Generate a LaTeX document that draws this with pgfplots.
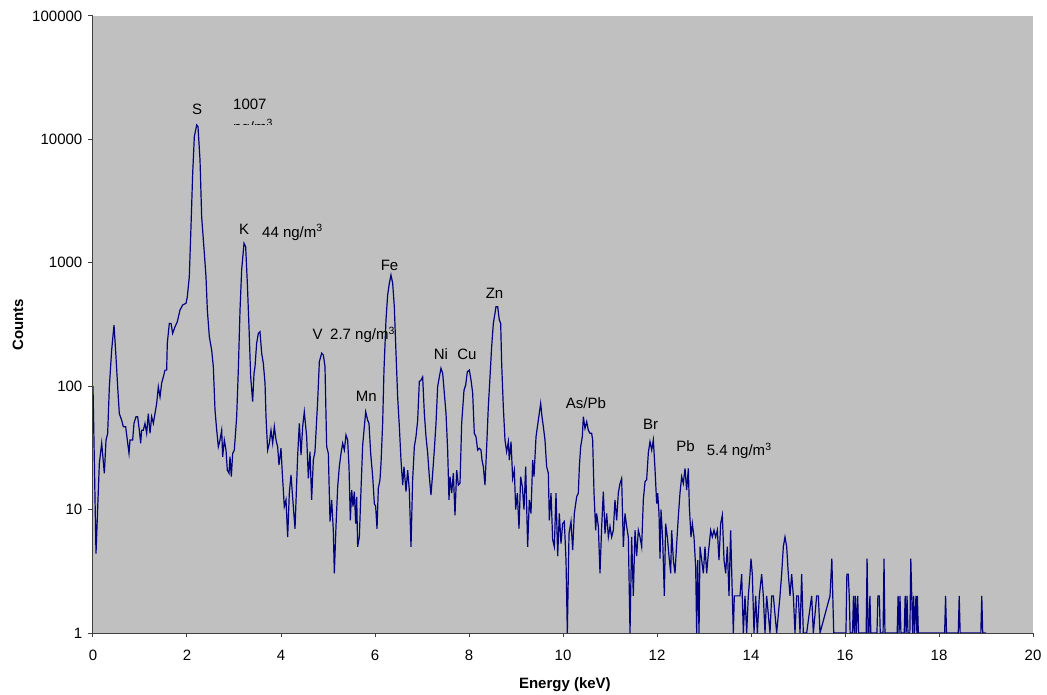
\documentclass[border=0pt]{standalone}
\usepackage{fontspec}
\setmainfont{Liberation Sans}
\usepackage{pgfplots}
\pgfplotsset{compat=1.18}
\definecolor{plotgray}{HTML}{C0C0C0}
\definecolor{spec}{HTML}{000080}
\definecolor{axgray}{HTML}{404040}

\begin{document}
\fontsize{15}{18}\selectfont
\begin{tikzpicture}[font=\fontsize{15}{18}\selectfont]
\useasboundingbox (-93pt,-61pt) rectangle (954pt,633pt);
\begin{axis}[
  name=ax, at={(0,0)}, anchor=south west,
  scale only axis, width=940pt, height=617pt,
  ymode=log, xmin=0, xmax=20, ymin=1, ymax=100000,
  xtick={0,2,...,20}, ytick={1,10,100,1000,10000,100000},
  yticklabels={1,10,100,1000,10000,100000},
  yminorticks=false,
  axis x line*=bottom, axis y line*=left,
  axis line style={-, draw=axgray, line width=1pt},
  tick style={draw=axgray, line width=1pt},
  tick align=outside, major tick length=4.5pt,
  axis background/.style={fill=plotgray},
  /pgf/number format/assume math mode=true,
  xticklabel style={yshift=-7pt},
  yticklabel style={xshift=-1pt},
  xlabel={\bfseries Energy (keV)}, ylabel={\bfseries Counts},
  xlabel style={at={(axis description cs:0.502,-0.0845)}, anchor=center},
  ylabel style={at={(axis description cs:-0.0798,0.5)}, anchor=center},
  axis on top,
]
% spectrum
\addplot[spec, line width=1.2pt] coordinates {
(0,100) (0.064,4.4) (0.135,23.7) (0.185,34.5) (0.241,19.7) (0.277,36.6) (0.312,41.5)
(0.348,99) (0.397,196) (0.447,313) (0.489,173) (0.525,99) (0.56,60) (0.61,53) (0.645,47)
(0.695,47) (0.73,36.6) (0.766,28.6) (0.787,36.6) (0.844,36.6) (0.872,50) (0.915,56.6)
(0.95,56.6) (0.986,44) (1.014,34.5) (1.035,44) (1.071,44) (1.106,50) (1.142,41.5)
(1.177,60) (1.213,41.5) (1.248,56.6) (1.284,50) (1.319,60) (1.355,72.6) (1.39,99)
(1.426,82) (1.461,106) (1.497,119) (1.532,135) (1.567,135) (1.581,223) (1.624,323)
(1.66,323) (1.695,268) (1.745,303) (1.794,333) (1.851,414) (1.908,455) (1.979,470)
(2.007,531) (2.049,771) (2.085,1963) (2.121,5310) (2.156,10500) (2.206,13100)
(2.234,12700) (2.277,6810) (2.312,2360) (2.369,1195) (2.404,771) (2.433,414) (2.475,252)
(2.525,196) (2.56,144) (2.596,64) (2.632,44) (2.667,32.3) (2.702,36.6) (2.738,44)
(2.759,26.8) (2.794,36.6) (2.83,30.4) (2.858,20.9) (2.894,19.7) (2.915,26.8) (2.943,18.5)
(2.972,28.6) (3.007,30.4) (3.057,56.6) (3.092,135) (3.128,414) (3.163,875) (3.213,1440)
(3.248,1350) (3.284,682) (3.319,303) (3.355,119) (3.397,75) (3.426,127) (3.447,144)
(3.482,223) (3.518,268) (3.553,276) (3.589,185) (3.624,153) (3.66,106) (3.681,56.6)
(3.716,30.4) (3.752,34.5) (3.787,44) (3.823,34.5) (3.858,47) (3.894,36.6)
(3.929,32.3) (3.957,23) (4.0,31.4) (4.028,19.7) (4.07,10.6) (4.106,12) (4.142,6.0)
(4.177,13.6) (4.213,19.1) (4.262,10.6) (4.298,7.0) (4.355,27.7) (4.39,50) (4.426,27.7)
(4.461,47) (4.496,62) (4.546,39) (4.582,17.9) (4.617,29.5) (4.652,12) (4.688,25.2)
(4.723,29.5) (4.781,77) (4.816,158) (4.865,185) (4.901,179) (4.936,144) (4.972,32.3)
(5.007,28.6) (5.043,8.0) (5.078,12) (5.113,6.8) (5.135,3.05) (5.17,7.3) (5.206,15.3)
(5.241,22.3) (5.277,28.6) (5.312,34.5) (5.348,30.4) (5.383,40.2) (5.418,36.6) (5.447,22.3)
(5.475,8.2) (5.504,14.4) (5.532,10.6) (5.56,14) (5.589,7.7) (5.61,12.7) (5.631,5.0)
(5.667,6.0) (5.702,14.4) (5.738,33.4) (5.773,47) (5.802,62) (5.844,53) (5.872,50)
(5.908,28.6) (5.951,18.5) (5.986,11.2) (6.014,10.6) (6.043,7.0) (6.071,14.9) (6.106,17.4)
(6.128,23.7) (6.163,50) (6.191,135) (6.234,344) (6.269,548) (6.305,682) (6.34,796)
(6.376,682) (6.411,441) (6.447,185) (6.482,82) (6.518,47) (6.553,25.2) (6.589,15.8)
(6.617,22.3) (6.66,14) (6.695,20.9) (6.73,14.4) (6.766,5.0) (6.801,17.4) (6.837,32.3)
(6.872,39) (6.908,53) (6.943,109) (6.979,112) (7.014,119) (7.05,60) (7.085,39)
(7.121,28.6) (7.156,18.5) (7.191,13.1) (7.227,19.7) (7.262,30.4) (7.298,50) (7.333,99)
(7.369,119) (7.404,140) (7.44,127) (7.475,88) (7.511,60) (7.546,30.4) (7.574,12)
(7.596,18.5) (7.631,13.6) (7.667,19.7) (7.702,9.0) (7.738,20.9) (7.773,15.8) (7.809,16.4)
(7.844,50) (7.894,93) (7.929,102) (7.965,131) (8.007,135) (8.043,112) (8.078,88)
(8.113,41.5) (8.149,39) (8.184,30.4) (8.22,31.4) (8.255,30.4) (8.277,25.2) (8.305,22.3)
(8.34,15.8) (8.376,32.3) (8.411,68) (8.447,119) (8.482,209) (8.518,323) (8.553,390)
(8.574,441) (8.61,441) (8.645,344) (8.674,323) (8.695,153) (8.73,68) (8.766,36.6)
(8.801,29.5) (8.837,35.5) (8.858,25.2) (8.894,35.5) (8.929,17.9) (8.965,20.9) (8.993,10)
(9.028,13.6) (9.064,7.0) (9.099,18.5) (9.135,15.3) (9.17,10) (9.206,22.3) (9.248,5.0)
(9.284,12) (9.319,9.3) (9.355,25.2) (9.383,18.5) (9.426,39) (9.475,53) (9.525,72.6)
(9.553,56.6) (9.582,47) (9.617,36.6) (9.652,22.3) (9.688,19.7) (9.709,8.2) (9.745,13.6)
(9.78,5.7) (9.816,5.0) (9.851,13.6) (9.887,4.2) (9.922,9.3) (9.957,5.3) (9.993,7.7)
(10.028,8.0) (10.064,3.9) (10.092,1) (10.128,6.4) (10.17,8.0) (10.206,4.7) (10.241,9.3)
(10.291,12.7) (10.326,13.6) (10.348,22.3) (10.376,32.3) (10.411,39) (10.433,56.6)
(10.468,45.5) (10.504,51.5) (10.539,44) (10.574,41.5) (10.61,41.5) (10.631,36.6)
(10.66,13.6) (10.695,6.8) (10.716,9.3) (10.752,7.3) (10.787,3.05) (10.823,7.3) (10.858,14)
(10.894,6.4) (10.929,9.3) (10.965,6.0) (11.0,7.3) (11.035,6.0) (11.071,6.8) (11.106,12)
(11.142,8.2) (11.177,13.6) (11.213,16.3) (11.248,17.9) (11.284,5.0) (11.319,9.3)
(11.355,7.3) (11.39,6.0) (11.426,1) (11.461,6.0) (11.496,2.0) (11.532,6.8) (11.567,4.2)
(11.603,6.8) (11.638,6.0) (11.674,5.0) (11.709,12) (11.745,16.8) (11.78,17.5) (11.816,29)
(11.851,35.5) (11.887,30.4) (11.922,36.6) (11.957,21.6) (11.993,11.2) (12.014,13.6)
(12.043,9.3) (12.064,4.0) (12.085,10) (12.121,5.7) (12.156,2.0) (12.184,7.7) (12.22,6.0)
(12.255,4.2) (12.291,3.05) (12.312,6.8) (12.348,3.9) (12.383,3.05) (12.419,5.3)
(12.454,8.8) (12.489,13.6) (12.525,18.5) (12.56,16.3) (12.596,21.6) (12.631,14.4)
(12.667,21.6) (12.688,10.6) (12.723,6.0) (12.752,7.7) (12.787,6.0) (12.823,3.4)
(12.844,1) (12.865,3.9) (12.894,1) (12.915,5.0) (12.95,3.9) (12.986,3.05) (13.021,5.0)
(13.057,3.05) (13.092,4.4) (13.142,6.8) (13.177,6.0) (13.213,6.8) (13.248,6.0)
(13.284,6.8) (13.319,3.9) (13.355,7.7) (13.39,9.0) (13.426,3.9) (13.461,3.05) (13.496,5.0)
(13.532,2) (13.567,6.8) (13.603,2) (13.624,1) (13.645,2) (13.695,2) (13.766,2) (13.801,3)
(13.837,1) (13.872,2) (13.908,1) (13.943,2) (13.979,3) (14.0,4) (14.028,3) (14.064,1)
(14.099,2) (14.135,1) (14.177,2) (14.227,3) (14.262,2) (14.298,1) (14.333,2) (14.404,1)
(14.44,2) (14.475,2) (14.546,1) (14.617,2) (14.652,3) (14.688,5) (14.723,6) (14.759,5)
(14.794,3) (14.83,2) (14.865,3) (14.901,2) (14.936,1) (14.972,2) (15.007,2) (15.043,1)
(15.078,3) (15.113,1) (15.184,1) (15.291,2) (15.326,1) (15.397,2) (15.433,2) (15.468,1)
(15.681,2) (15.72,4) (15.74,2) (15.76,1) (16.02,1) (16.04,3) (16.07,3) (16.09,2)
(16.11,1) (16.16,1) (16.18,2) (16.2,1) (16.22,2) (16.24,1) (16.27,2) (16.29,1) (16.45,1)
(16.47,4) (16.49,1) (16.51,1) (16.53,2) (16.55,1) (16.68,1) (16.7,2) (16.73,2) (16.75,1)
(16.81,1) (16.83,4) (16.85,1) (17.11,1) (17.13,2) (17.15,1) (17.17,2) (17.19,1)
(17.26,1) (17.28,2) (17.3,1) (17.32,2) (17.34,1) (17.38,1) (17.4,4) (17.44,1) (17.46,2)
(17.48,1) (17.51,2) (17.53,1) (17.54,2) (17.56,1) (18.12,1) (18.14,2) (18.16,1)
(18.41,1) (18.43,2) (18.45,1) (18.89,1) (18.91,2) (18.93,1) (19.0,1)
};
% element labels
\node[anchor=base, inner sep=0pt] at (axis cs:2.213,15770) {S};
\node[anchor=base west, inner sep=0pt] at (axis cs:2.979,17630) {1007};
\node[anchor=base, inner sep=0pt] at (axis cs:3.213,1711) {K};
\node[anchor=base west, inner sep=0pt] at (axis cs:3.596,1618) {44 ng/m\textsuperscript{3}};
\node[anchor=base, inner sep=0pt] at (axis cs:6.309,874) {Fe};
\node[anchor=base, inner sep=0pt] at (axis cs:8.543,509) {Zn};
\node[anchor=base, inner sep=0pt] at (axis cs:4.777,237) {V};
\node[anchor=base west, inner sep=0pt] at (axis cs:5.043,237) {2.7 ng/m\textsuperscript{3}};
\node[anchor=base, inner sep=0pt] at (axis cs:7.404,166) {Ni};
\node[anchor=base, inner sep=0pt] at (axis cs:7.957,166) {Cu};
\node[anchor=base, inner sep=0pt] at (axis cs:5.815,75.2) {Mn};
\node[anchor=base, inner sep=0pt] at (axis cs:10.489,65.4) {As/Pb};
\node[anchor=base, inner sep=0pt] at (axis cs:11.862,44.2) {Br};
\node[anchor=base, inner sep=0pt] at (axis cs:12.606,29.5) {Pb};
\node[anchor=base west, inner sep=0pt] at (axis cs:13.057,27.2) {5.4 ng/m\textsuperscript{3}};
% corners of the half-hidden unit line under 1007
\coordinate (c1) at (axis cs:2.8,13210);
\coordinate (c2) at (axis cs:4.2,17300);
\coordinate (c3) at (axis cs:2.979,11480);
\end{axis}
\begin{scope}
\clip (c1) rectangle (c2);
\node[anchor=base west, inner sep=0pt] at (c3) {ng/m\textsuperscript{3}};
\end{scope}
\end{tikzpicture}
\end{document}
